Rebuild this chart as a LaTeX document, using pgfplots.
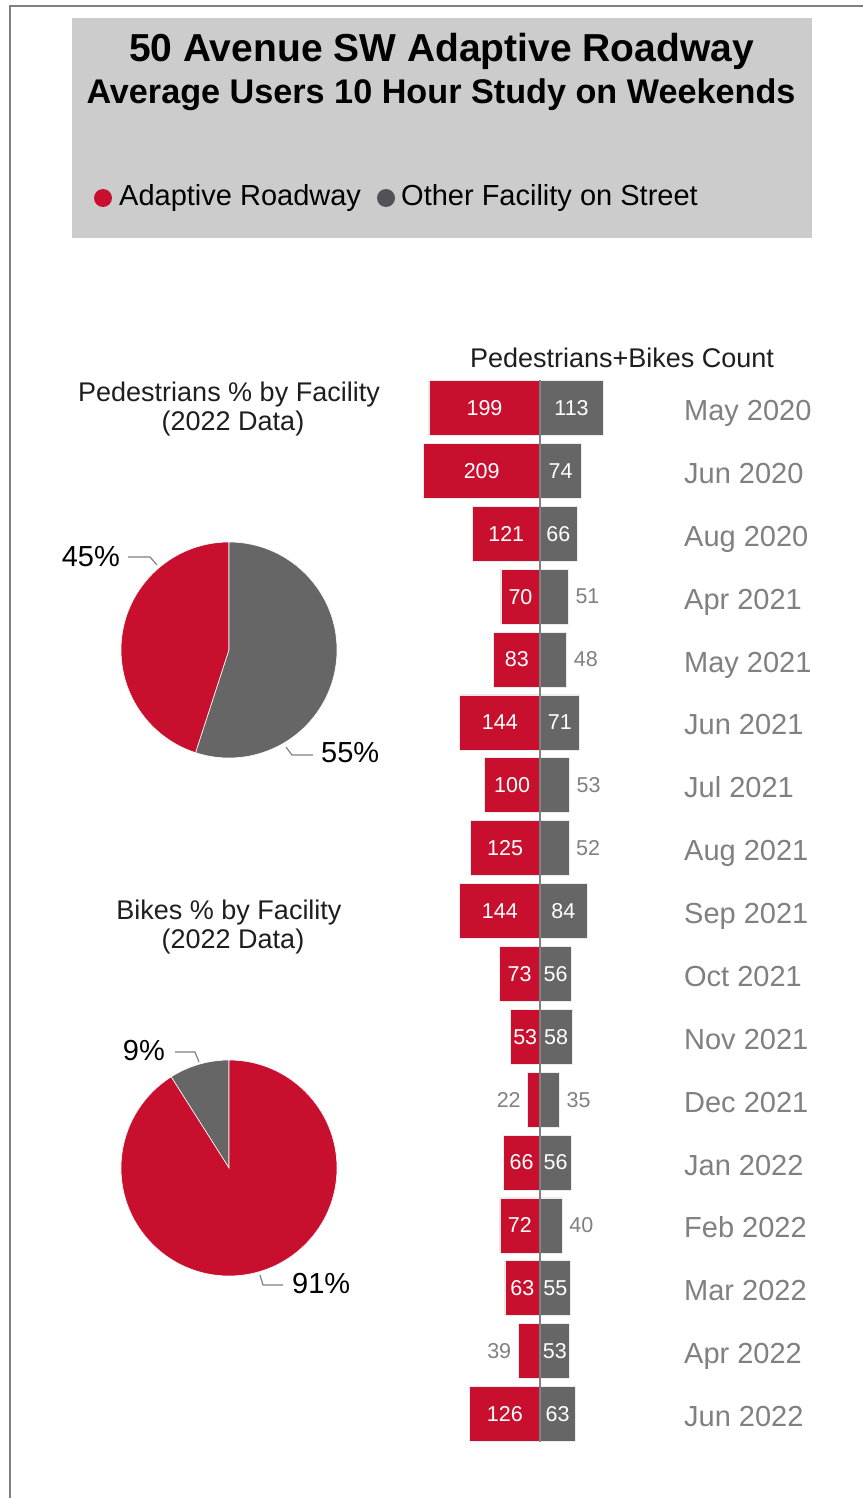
\documentclass[border=0pt]{standalone}
\usepackage{pgfplots}
\pgfplotsset{compat=1.18}
\usepackage{pgfplotstable}
\usepackage{fontspec}
\setmainfont{Liberation Sans}
\definecolor{adred}{RGB}{200,16,46}
\definecolor{ofgray}{RGB}{102,102,102}
\definecolor{lgdgray}{RGB}{80,82,88}
\definecolor{boxgray}{RGB}{204,204,204}
\definecolor{lblgray}{RGB}{128,128,128}
\definecolor{framegray}{RGB}{128,128,128}
\definecolor{txtdark}{RGB}{30,30,30}

% row, Adaptive Roadway, Other Facility, label inside flags
\pgfplotstableread{
row red gray rin gin
0 199 113 1 1
1 209 74 1 1
2 121 66 1 1
3 70 51 1 0
4 83 48 1 0
5 144 71 1 1
6 100 53 1 0
7 125 52 1 0
8 144 84 1 1
9 73 56 1 1
10 53 58 1 1
11 22 35 0 0
12 66 56 1 1
13 72 40 1 0
14 63 55 1 1
15 39 53 0 1
16 126 63 1 1
}\counts

% pie data (2022)
\def\pedAR{45}\def\pedOF{55}
\def\bikeAR{91}\def\bikeOF{9}

\begin{document}
\begin{tikzpicture}[x=1pt,y=1pt]
\path[use as bounding box] (0,0) rectangle (862,-1498);
\draw[framegray, line width=2pt] (10,-1500) -- (10,-6) -- (864,-6);
\fill[boxgray] (72,-18) rectangle (812,-238);
\node[anchor=base, inner sep=0pt, font=\bfseries\fontsize{39}{39}\selectfont] at (441.5,-62) {50 Avenue SW Adaptive Roadway};
\node[anchor=base, inner sep=0pt, font=\bfseries\fontsize{34.2}{34}\selectfont] at (441,-104) {Average Users 10 Hour Study on Weekends};
\fill[adred] (103,-198) circle[radius=9pt];
\node[anchor=base west, inner sep=0pt, font=\fontsize{29}{29}\selectfont] at (119,-205) {Adaptive Roadway};
\fill[lgdgray] (386,-198) circle[radius=9pt];
\node[anchor=base west, inner sep=0pt, font=\fontsize{29}{29}\selectfont] at (401,-205) {Other Facility on Street};

% titles
\node[anchor=base, inner sep=0pt, text=txtdark, font=\fontsize{27}{27}\selectfont] at (229,-401) {Pedestrians \% by Facility};
\node[anchor=base, inner sep=0pt, text=txtdark, font=\fontsize{27}{27}\selectfont] at (233,-430) {(2022 Data)};
\node[anchor=base, inner sep=0pt, text=txtdark, font=\fontsize{27}{27}\selectfont] at (229,-919) {Bikes \% by Facility};
\node[anchor=base, inner sep=0pt, text=txtdark, font=\fontsize{27}{27}\selectfont] at (233,-948) {(2022 Data)};
\node[anchor=base, inner sep=0pt, text=txtdark, font=\fontsize{27}{27}\selectfont] at (622,-367) {Pedestrians+Bikes Count};

% bar chart
\begin{axis}[
  at={(540pt,-408pt)}, anchor=origin,
  x=0.558pt, y=62.875pt, y dir=reverse,
  xmin=-230, xmax=258, ymin=-0.5, ymax=16.5,
  axis line style={draw=none}, xtick=\empty,
  ytick={0,...,16},
  yticklabels={May 2020,Jun 2020,Aug 2020,Apr 2021,May 2021,Jun 2021,Jul 2021,Aug 2021,Sep 2021,Oct 2021,Nov 2021,Dec 2021,Jan 2022,Feb 2022,Mar 2022,Apr 2022,Jun 2022},
  yticklabel pos=right, major tick length=0pt,
  yticklabel style={anchor=base west, inner xsep=0pt, yshift=-12.5pt, text=lblgray, font=\fontsize{29}{29}\selectfont},
  xbar, bar width=55pt, bar shift=0pt,
  clip=false,
  point meta=explicit symbolic,
]
\addplot[fill=adred, draw=white!85!gray, line width=0.6pt,
  visualization depends on={\thisrow{rin} \as \rin},
  visualization depends on={\thisrow{rin}*\thisrow{red}*0.279 - (1-\thisrow{rin})*19 \as \rsh},
  nodes near coords={\ifdim\rin pt>0.5pt\textcolor{white}{\pgfplotspointmeta}\else\textcolor{lblgray}{\pgfplotspointmeta}\fi},
  every node near coord/.append style={anchor=center, inner sep=0pt,
    font=\fontsize{21.5}{21.5}\selectfont, xshift=\rsh pt}]
  table[x expr=-\thisrow{red}, y=row, meta=red] {\counts};
\addplot[fill=ofgray, draw=white!85!gray, line width=0.6pt,
  visualization depends on={\thisrow{gin} \as \gin},
  visualization depends on={-\thisrow{gin}*\thisrow{gray}*0.279 + (1-\thisrow{gin})*19 \as \gsh},
  nodes near coords={\ifdim\gin pt>0.5pt\textcolor{white}{\pgfplotspointmeta}\else\textcolor{lblgray}{\pgfplotspointmeta}\fi},
  every node near coord/.append style={anchor=center, inner sep=0pt,
    font=\fontsize{21.5}{21.5}\selectfont, xshift=\gsh pt}]
  table[x=gray, y=row, meta=gray] {\counts};
\draw[lblgray, line width=1.5pt] (axis cs:0,-0.44) -- (axis cs:0,16.44);
\end{axis}

% pedestrians pie
\begin{axis}[at={(229pt,-650pt)}, anchor=origin, x=108pt, y=108pt,
  xmin=-1.1, xmax=1.1, ymin=-1.1, ymax=1.1, hide axis, clip=false]
\filldraw[fill=adred, draw=white, line width=0.6pt] (axis cs:0,0) -- ++(90:108pt)
  arc[start angle=90, end angle={90+3.6*\pedAR}, radius=108pt] -- cycle;
\filldraw[fill=ofgray, draw=white, line width=0.6pt] (axis cs:0,0) -- ++(90:108pt)
  arc[start angle=90, end angle={90-3.6*\pedOF}, radius=108pt] -- cycle;
\end{axis}

% bikes pie
\begin{axis}[at={(229pt,-1168pt)}, anchor=origin, x=108pt, y=108pt,
  xmin=-1.1, xmax=1.1, ymin=-1.1, ymax=1.1, hide axis, clip=false]
\filldraw[fill=ofgray, draw=white, line width=0.6pt] (axis cs:0,0) -- ++(90:108pt)
  arc[start angle=90, end angle={90+3.6*\bikeOF}, radius=108pt] -- cycle;
\filldraw[fill=adred, draw=white, line width=0.6pt] (axis cs:0,0) -- ++(90:108pt)
  arc[start angle=90, end angle={90-3.6*\bikeAR}, radius=108pt] -- cycle;
\end{axis}

% leader lines and pie labels
\draw[lblgray, line width=1.2pt] (128,-557) -- (150,-557) -- (157,-565);
\draw[lblgray, line width=1.2pt] (286,-747) -- (292,-755) -- (313,-755);
\draw[lblgray, line width=1.2pt] (175,-1052) -- (195,-1052) -- (199,-1062);
\draw[lblgray, line width=1.2pt] (260,-1275) -- (263,-1285) -- (283,-1285);
\node[anchor=base east, inner sep=0pt, font=\fontsize{29}{29}\selectfont] at (120,-566) {45\%};
\node[anchor=base west, inner sep=0pt, font=\fontsize{29}{29}\selectfont] at (321,-762) {55\%};
\node[anchor=base east, inner sep=0pt, font=\fontsize{29}{29}\selectfont] at (165,-1060) {9\%};
\node[anchor=base west, inner sep=0pt, font=\fontsize{29}{29}\selectfont] at (292,-1293) {91\%};
\end{tikzpicture}
\end{document}
